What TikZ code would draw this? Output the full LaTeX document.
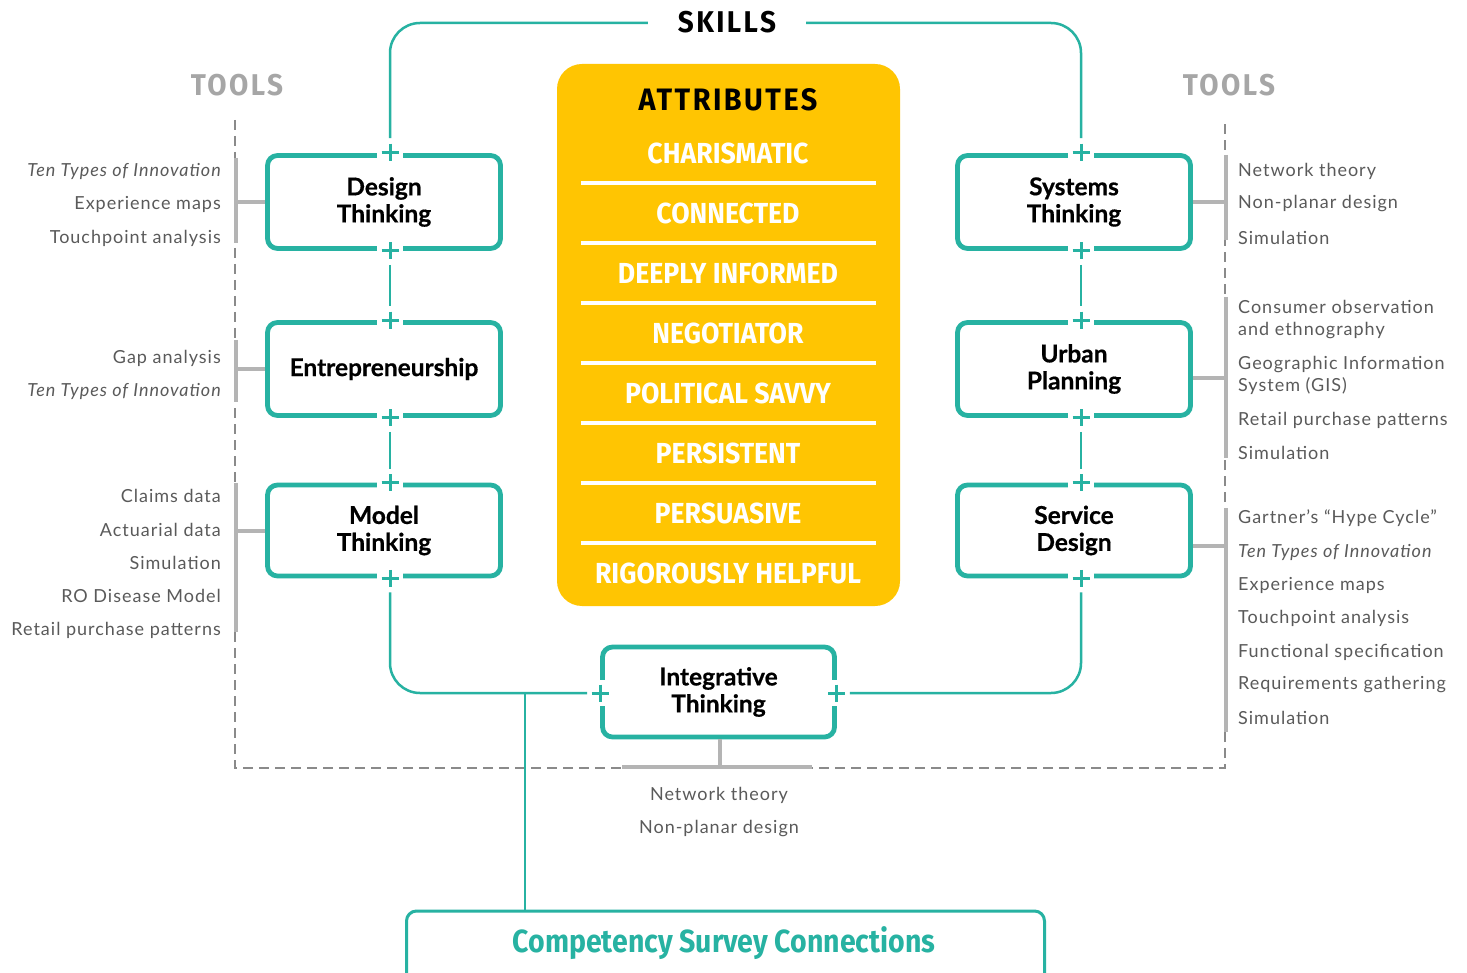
\documentclass[tikz,border=0pt]{standalone}
\usepackage{fontspec}
\setmainfont{Lato}
\newfontfamily\toolf[LetterSpace=5.5]{Lato}
\newfontfamily\condf[FakeStretch=0.92]{Fira Sans}
\newfontfamily\compf[FakeStretch=0.89]{Fira Sans}
\newfontfamily\condsp[FakeStretch=0.93,LetterSpace=8]{Fira Sans}
\newfontfamily\boxf[FakeBold=0.6]{Lato}
\usetikzlibrary{calc}
\definecolor{teal1}{HTML}{27B2A2}
\definecolor{gold}{HTML}{FFC502}
\definecolor{tgray}{HTML}{5A5A5A}
\definecolor{bgray}{HTML}{B4B4B4}
\definecolor{hgray}{HTML}{A6A6A6}
\definecolor{dgray}{HTML}{8A8A8A}
\tikzset{
  skillbox/.style={draw=teal1, line width=4.8pt, rounded corners=10pt, minimum width=233pt,
    minimum height=93pt, font=\boxf\bfseries\fontsize{24.5}{27}\selectfont, align=center, fill=white, text=black},
  conn/.style={draw=teal1, line width=2.5pt},
  bracket/.style={draw=bgray, line width=4pt},
  frame/.style={draw=dgray, line width=1.2pt, dash pattern=on 10pt off 6pt},
  tooll/.style={anchor=east, inner sep=0pt, text=tgray, font=\toolf\fontsize{18}{20}\selectfont},
  toolr/.style={anchor=west, inner sep=0pt, text=tgray, font=\toolf\fontsize{18}{20}\selectfont, align=left},
  attr/.style={text=white, inner sep=0pt, font=\condf\bfseries\fontsize{29}{30}\selectfont},
  sep/.style={draw=white, line width=4pt},
  head/.style={inner sep=0pt, font=\condsp\bfseries\fontsize{30}{32}\selectfont},
}
\newcommand\plush[1]{%
  \fill[white] ($(#1)+(-13,-7)$) rectangle ($(#1)+(13,7)$);
  \draw[teal1, line width=3pt] ($(#1)+(-8.5,0)$) -- ($(#1)+(8.5,0)$) ($(#1)+(0,-8.5)$) -- ($(#1)+(0,8.5)$);}
\newcommand\plusv[1]{%
  \fill[white] ($(#1)+(-7,-13)$) rectangle ($(#1)+(7,13)$);
  \draw[teal1, line width=3pt] ($(#1)+(-8.5,0)$) -- ($(#1)+(8.5,0)$) ($(#1)+(0,-8.5)$) -- ($(#1)+(0,8.5)$);}
\begin{document}
\begin{tikzpicture}[x=1pt,y=-1pt]
\useasboundingbox (0,0) rectangle (1467,973);
\clip (0,0) rectangle (1467,973);
\fill[white] (0,0) rectangle (1467,973);

% dashed tools frame
\draw[frame] (235,120) -- (235,768) -- (1225,768) -- (1225,120);

% headings
\node[head, text=black] (skills) at (727,22) {SKILLS};
\node[head, text=hgray] (toolsl) at (237,85) {TOOLS};
\node[head, text=hgray] (toolsr) at (1229,85) {TOOLS};

% attributes box
\node[fill=gold, rounded corners=25pt, minimum width=343pt, minimum height=542pt, inner sep=0pt] (attrbox) at (728.5,335) {};
\node[head, text=black, font=\condsp\bfseries\fontsize{31}{32}\selectfont] (atitle) at (728,100) {ATTRIBUTES};
\node[attr] (a1) at (728,153) {CHARISMATIC};
\node[attr] (a2) at (728,213) {CONNECTED};
\node[attr] (a3) at (728,273) {DEEPLY INFORMED};
\node[attr] (a4) at (728,333) {NEGOTIATOR};
\node[attr] (a5) at (728,393) {POLITICAL SAVVY};
\node[attr] (a6) at (728,453) {PERSISTENT};
\node[attr] (a7) at (728,513) {PERSUASIVE};
\node[attr] (a8) at (728,573) {RIGOROUSLY HELPFUL};
\foreach \y in {183,243,303,363,423,483,543} \draw[sep] (581,\y) -- (876,\y);

% skill boxes
\node[skillbox] (dt) at (384,202) {Design\\Thinking};
\node[skillbox] (en) at (384,369) {Entrepreneurship};
\node[skillbox, minimum height=91pt] (mt) at (384,530.5) {Model\\Thinking};
\node[skillbox] (st) at (1074,202) {Systems\\Thinking};
\node[skillbox] (up) at (1074,369) {Urban\\Planning};
\node[skillbox, minimum height=91pt] (sd) at (1074,530.5) {Service\\Design};
\node[skillbox, minimum width=232pt, minimum height=90pt] (it) at (718.5,692) {Integrative\\Thinking};

% competency box
\node[draw=teal1, line width=3pt, rounded corners=10pt, minimum width=638pt, minimum height=110pt, anchor=north] (csc) at (725.5,909.5) {};
\node[text=teal1, font=\compf\bfseries\fontsize{32}{34}\selectfont, inner sep=0pt] (csct) at (724,943) {Competency Survey Connections};

% plus coordinates
\coordinate (pdtN) at ($(dt.north)+(6,-1)$);
\coordinate (pdtS) at ($(dt.south)+(6,0)$);
\coordinate (penN) at ($(en.north)+(6,0)$);
\coordinate (penS) at ($(en.south)+(6,0)$);
\coordinate (pmtN) at ($(mt.north)+(6,0)$);
\coordinate (pmtS) at ($(mt.south)+(6,0)$);
\coordinate (pstN) at ($(st.north)+(7,-1)$);
\coordinate (pstS) at ($(st.south)+(7,0)$);
\coordinate (pupN) at ($(up.north)+(7,0)$);
\coordinate (pupS) at ($(up.south)+(7,0)$);
\coordinate (psdN) at ($(sd.north)+(7,0)$);
\coordinate (psdS) at ($(sd.south)+(7,0)$);
\coordinate (pitW) at ($(it.west)+(0,1)$);
\coordinate (pitE) at ($(it.east)+(0,1)$);

\foreach \p in {pdtN,pdtS,penN,penS,pmtN,pmtS,pstN,pstS,pupN,pupS,psdN,psdS} {\plush{\p}}
\plusv{pitW}
\plusv{pitE}

% teal connectors
\draw[conn, rounded corners=30pt] ($(skills.west)+(-30,1)$) -| ($(pdtN)+(0,-14)$);
\draw[conn, rounded corners=30pt] ($(skills.east)+(30,1)$) -| ($(pstN)+(0,-14)$);
\draw[conn] ($(pdtS)+(0,14)$) -- ($(penN)+(0,-14)$);
\draw[conn] ($(penS)+(0,14)$) -- ($(pmtN)+(0,-14)$);
\draw[conn] ($(pstS)+(0,14)$) -- ($(pupN)+(0,-14)$);
\draw[conn] ($(pupS)+(0,14)$) -- ($(psdN)+(0,-14)$);
\draw[conn, rounded corners=30pt] ($(pmtS)+(0,14)$) |- ($(pitW)+(-13,0)$);
\draw[conn, rounded corners=30pt] ($(psdS)+(0,14)$) |- ($(pitE)+(13,0)$);
\coordinate (cjx) at (525,0);
\draw[conn] (cjx |- csc.north) -- (cjx |- pitW);

% gray tool brackets
\coordinate (blx) at (236,0);
\coordinate (brx) at (1226,0);
\draw[bracket] (236,158) -- (236,243);
\draw[bracket] (dt.west) -- (dt.west -| blx);
\draw[bracket] (236,340) -- (236,402);
\draw[bracket] (en.west) -- (en.west -| blx);
\draw[bracket] (236,483) -- (236,632);
\draw[bracket] (mt.west) -- (mt.west -| blx);
\draw[bracket] (1226,155) -- (1226,240);
\draw[bracket] (st.east) -- (st.east -| brx);
\draw[bracket] (1226,297) -- (1226,458);
\draw[bracket] ($(up.east)+(0,9)$) -- ($(up.east -| brx)+(0,9)$);
\draw[bracket] (1226,508) -- (1226,732);
\draw[bracket] ($(sd.east)+(0,15)$) -- ($(sd.east -| brx)+(0,15)$);
\coordinate (ib) at (720,767);
\draw[bracket] (it.south -| ib) -- (ib);
\draw[bracket] (622,767) -- (812,767);

% left tools
\node[tooll] (l1) at (221,171) {\itshape Ten Types of Innovation};
\node[tooll] (l2) at (221,204) {Experience maps};
\node[tooll] (l3) at (221,238) {Touchpoint analysis};
\node[tooll] (l4) at (221,358) {Gap analysis};
\node[tooll] (l5) at (221,391) {\itshape Ten Types of Innovation};
\node[tooll] (l6) at (221,496) {Claims data};
\node[tooll] (l7) at (221,530) {Actuarial data};
\node[tooll] (l8) at (221,563) {Simulation};
\node[tooll] (l9) at (221,596) {RO Disease Model};
\node[tooll] (l10) at (221,630) {Retail purchase patterns};

% right tools
\node[toolr] (r1) at (1238,171) {Network theory};
\node[toolr] (r2) at (1238,204) {Non-planar design};
\node[toolr] (r3) at (1238,238) {Simulation};
\node[toolr, font=\toolf\fontsize{18}{22}\selectfont] (r4) at (1238,320) {Consumer observation\\and ethnography};
\node[toolr, font=\toolf\fontsize{18}{22}\selectfont] (r5) at (1238,375) {Geographic Information\\System (GIS)};
\node[toolr] (r6) at (1238,420) {Retail purchase patterns};
\node[toolr] (r7) at (1238,453) {Simulation};
\node[toolr] (r8) at (1238,518) {Gartner’s “Hype Cycle”};
\node[toolr] (r9) at (1238,552) {\itshape Ten Types of Innovation};
\node[toolr] (r10) at (1238,585) {Experience maps};
\node[toolr] (r11) at (1238,618) {Touchpoint analysis};
\node[toolr] (r12) at (1238,652) {Functional specification};
\node[toolr] (r13) at (1238,685) {Requirements gathering};
\node[toolr] (r14) at (1238,718) {Simulation};

% integrative tools
\node[tooll, anchor=center] (b1) at (719,795) {Network theory};
\node[tooll, anchor=center] (b2) at (719,829) {Non-planar design};
\end{tikzpicture}
\end{document}
